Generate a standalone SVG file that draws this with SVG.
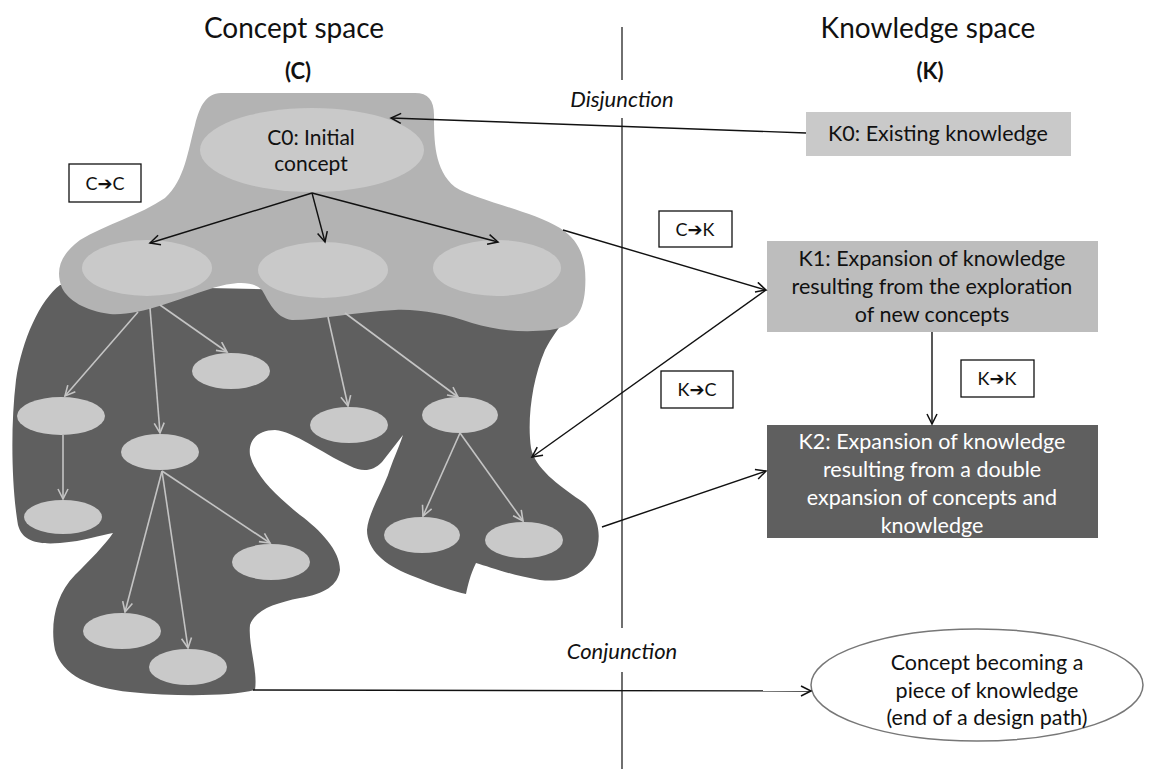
<svg xmlns="http://www.w3.org/2000/svg" width="1160" height="769" viewBox="0 0 1160 769">
<style>
.t{font-family:Lato,"Open Sans",sans-serif;fill:#111;text-anchor:middle}
.w{fill:#fff}
.lbl{font-family:Lato,"DejaVu Sans",sans-serif;font-size:18px;fill:#111;text-anchor:middle}
.box{fill:#fff;stroke:#111;stroke-width:1.3}
.ell{fill:#c9c9c9}
.blk{stroke:#111;stroke-width:1.4;fill:none;marker-end:url(#ab)}
.gry{stroke:#c4c4c4;stroke-width:1.6;fill:none;marker-end:url(#ag)}
</style>
<defs>
<marker id="ab" markerUnits="userSpaceOnUse" markerWidth="14" markerHeight="14" refX="11" refY="6" orient="auto">
<path d="M1,1 L11,6 L1,11" fill="none" stroke="#111" stroke-width="1.5"/>
</marker>
<marker id="ag" markerUnits="userSpaceOnUse" markerWidth="14" markerHeight="14" refX="11" refY="6" orient="auto">
<path d="M1,1 L11,6 L1,11" fill="none" stroke="#c4c4c4" stroke-width="1.6"/>
</marker>
</defs>
<rect width="1160" height="769" fill="#fff"/>

<g id="titles">
<text class="t" x="294" y="38" font-size="28">Concept space</text>
<text class="t" x="298" y="79" font-size="22" font-weight="bold">(C)</text>
<text class="t" x="928" y="38" font-size="28">Knowledge space</text>
<text class="t" x="930" y="79" font-size="22" font-weight="bold">(K)</text>
<text class="t" x="622" y="107" font-size="22" font-style="italic">Disjunction</text>
<text class="t" x="622" y="659" font-size="22" font-style="italic">Conjunction</text>
</g>

<g id="divider" stroke="#222" stroke-width="1.3">
<line x1="622" y1="27" x2="622" y2="80"/>
<line x1="622" y1="118" x2="622" y2="628"/>
<line x1="622" y1="672" x2="622" y2="769"/>
</g>

<g id="concept-space">
<path id="dark-region" fill="#5f5f5f" d="M 60,285 C 40,300 22,340 16,380 C 10,430 12,490 18,525 C 22,540 35,545 60,543 C 85,541 100,535 113,533 C 105,545 90,560 75,575 C 55,595 50,625 55,650 C 62,675 90,688 130,692 C 180,697 230,696 255,690 C 258,670 248,645 250,625 C 255,610 275,603 300,598 C 325,594 338,585 340,570 C 340,550 320,530 300,515 C 275,495 255,475 250,455 C 248,440 258,430 275,430 C 295,432 320,452 350,466 C 362,472 372,472 382,462 L 403,435 C 398,450 392,462 388,475 C 380,495 368,515 367,530 C 367,550 385,565 410,575 C 435,585 455,592 466,594 C 468,585 470,575 476,563 C 490,567 510,575 540,580 C 565,583 585,575 595,555 C 603,535 598,512 580,500 C 558,485 535,468 531,448 C 527,420 532,380 545,350 C 558,325 575,310 583,295 L 583,280 L 300,290 Z"/>
<path id="light-region" fill="#b3b3b3" d="M 221,93 L 415,93 C 428,93 434,100 434,115 C 434,140 434,170 455,187 C 475,200 530,210 560,228 C 582,242 587,262 585,290 C 583,315 572,327 550,330 C 520,333 495,330 472,323 C 445,314 420,309 395,310 C 355,312 320,320 292,320 C 275,318 268,300 262,290 C 252,280 232,282 210,289 C 175,300 140,316 110,314 C 85,311 68,300 62,288 C 55,270 60,255 80,240 C 105,225 140,215 165,198 C 185,180 188,150 195,125 C 200,105 206,94 221,93 Z"/>
</g>

<g id="c0">
<ellipse class="ell" cx="312" cy="150" rx="112" ry="42"/>
<text class="t" x="311" y="145" font-size="21">C0: Initial</text>
<text class="t" x="311" y="171" font-size="21">concept</text>
</g>
<g id="c-children">
<ellipse class="ell" cx="147" cy="268" rx="65" ry="28"/>
<ellipse class="ell" cx="323" cy="270" rx="65" ry="28"/>
<ellipse class="ell" cx="497" cy="268" rx="64" ry="28"/>
</g>
<g id="c-descendants">
<ellipse class="ell" cx="231" cy="371" rx="39" ry="18"/>
<ellipse class="ell" cx="61" cy="416" rx="44" ry="19"/>
<ellipse class="ell" cx="160" cy="452" rx="39" ry="18"/>
<ellipse class="ell" cx="349" cy="425" rx="39" ry="18"/>
<ellipse class="ell" cx="460" cy="415" rx="38" ry="18"/>
<ellipse class="ell" cx="63" cy="517" rx="39" ry="17"/>
<ellipse class="ell" cx="271" cy="562" rx="39" ry="18"/>
<ellipse class="ell" cx="122" cy="631" rx="39" ry="18"/>
<ellipse class="ell" cx="188" cy="667" rx="39" ry="18"/>
<ellipse class="ell" cx="422" cy="535" rx="38" ry="18"/>
<ellipse class="ell" cx="524" cy="540" rx="39" ry="18"/>
</g>

<g id="k0">
<rect x="806" y="112" width="265" height="44" fill="#c9c9c9"/>
<text class="t" x="938" y="141" font-size="21.5">K0: Existing knowledge</text>
</g>
<g id="k1">
<rect x="767" y="241" width="331" height="91" fill="#bdbdbd"/>
<text class="t" x="932" y="266" font-size="21.5">K1: Expansion of knowledge</text>
<text class="t" x="932" y="294" font-size="21.5">resulting from the exploration</text>
<text class="t" x="932" y="322" font-size="21.5">of new concepts</text>
</g>
<g id="k2">
<rect x="767" y="425" width="331" height="113" fill="#5f5f5f"/>
<text class="t w" x="932" y="449" font-size="21.5">K2: Expansion of knowledge</text>
<text class="t w" x="932" y="477" font-size="21.5">resulting from a double</text>
<text class="t w" x="932" y="505" font-size="21.5">expansion of concepts and</text>
<text class="t w" x="932" y="533" font-size="21.5">knowledge</text>
</g>
<g id="end-node">
<ellipse cx="977" cy="685" rx="166" ry="56" fill="#fff" stroke="#777" stroke-width="1.5"/>
<text class="t" x="987" y="670" font-size="21.5">Concept becoming a</text>
<text class="t" x="987" y="698" font-size="21.5">piece of knowledge</text>
<text class="t" x="987" y="725" font-size="21.5">(end of a design path)</text>
</g>

<g id="label-cc"><rect class="box" x="69" y="164" width="72" height="38"/><text class="lbl" x="105" y="190">C➔C</text></g>
<g id="label-ck"><rect class="box" x="659" y="211" width="73" height="36"/><text class="lbl" x="695" y="236">C➔K</text></g>
<g id="label-kc"><rect class="box" x="661" y="371" width="72" height="37"/><text class="lbl" x="697" y="396">K➔C</text></g>
<g id="label-kk"><rect class="box" x="961" y="360" width="73" height="37"/><text class="lbl" x="997" y="385">K➔K</text></g>

<g id="connectors">
<line class="blk" x1="312" y1="193" x2="150" y2="243"/>
<line class="blk" x1="312" y1="193" x2="325" y2="242"/>
<line class="blk" x1="312" y1="193" x2="498" y2="242"/>
<line class="gry" x1="138" y1="312" x2="65" y2="396"/>
<line class="gry" x1="150" y1="308" x2="160" y2="433"/>
<line class="gry" x1="160" y1="305" x2="227" y2="352"/>
<line class="gry" x1="328" y1="317" x2="348" y2="406"/>
<line class="gry" x1="345" y1="313" x2="458" y2="397"/>
<line class="gry" x1="63" y1="435" x2="63" y2="499"/>
<line class="gry" x1="162" y1="471" x2="125" y2="612"/>
<line class="gry" x1="162" y1="471" x2="188" y2="648"/>
<line class="gry" x1="162" y1="471" x2="270" y2="543"/>
<line class="gry" x1="460" y1="433" x2="423" y2="516"/>
<line class="gry" x1="460" y1="433" x2="523" y2="521"/>
<line class="blk" x1="806" y1="133" x2="391" y2="118"/>
<line class="blk" x1="563" y1="230" x2="766" y2="290"/>
<line class="blk" x1="766" y1="290" x2="532" y2="457"/>
<line class="blk" x1="932" y1="332" x2="932" y2="424"/>
<line class="blk" x1="602" y1="527" x2="766" y2="471"/>
<line class="blk" x1="253" y1="690" x2="811" y2="691"/>
</g>
</svg>
